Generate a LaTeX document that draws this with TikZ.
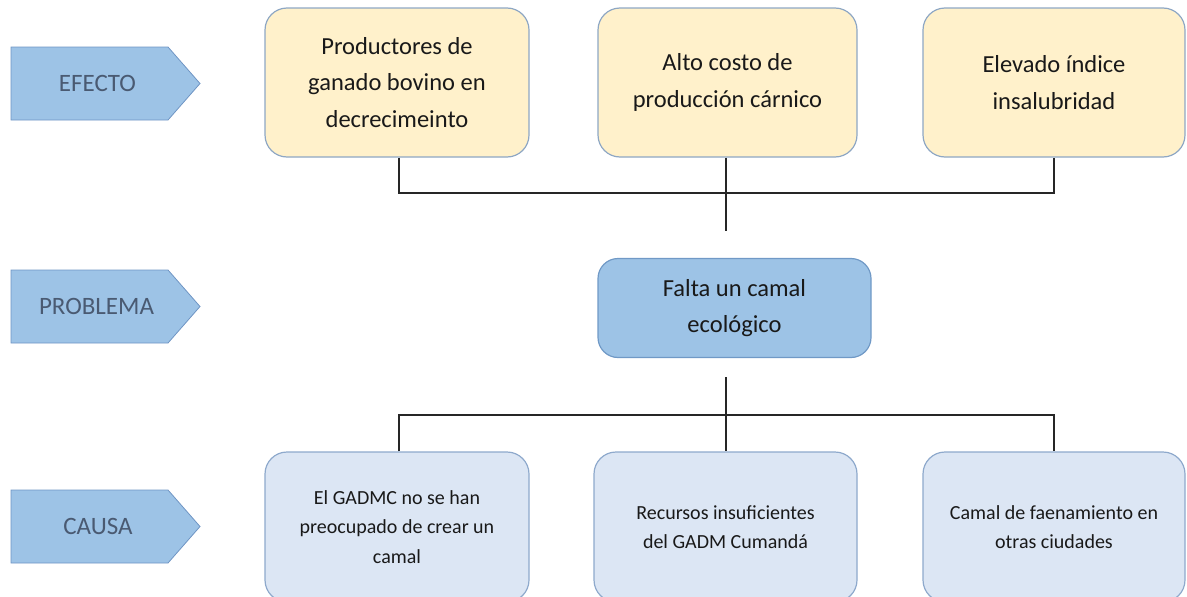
\documentclass[tikz,border=0pt]{standalone}
\usepackage{fontspec}
\setmainfont{Carlito}
\definecolor{tagfill}{HTML}{9DC3E6}
\definecolor{tagdraw}{HTML}{6F95C4}
\definecolor{tagtext}{HTML}{4A5A72}
\definecolor{efill}{HTML}{FFF1CB}
\definecolor{edraw}{HTML}{8EA7C4}
\definecolor{pfill}{HTML}{9DC3E6}
\definecolor{pdraw}{HTML}{7099C6}
\definecolor{cfill}{HTML}{DCE6F4}
\definecolor{cdraw}{HTML}{8EA9CC}
\begin{document}
\begin{tikzpicture}[x=1pt,y=-1pt,
  tagshape/.style={fill=tagfill, draw=tagdraw, line width=0.8pt},
  tag/.style={inner sep=0pt, font=\fontsize{25}{28}\selectfont, text=tagtext},
  ebox/.style={draw=edraw, fill=efill, line width=1.2pt, rounded corners=22pt, minimum height=149pt,
    align=center, inner sep=0pt, font=\fontsize{24.5}{36.5}\selectfont, text=black!90},
  pbox/.style={draw=pdraw, fill=pfill, line width=1.2pt, rounded corners=20pt, minimum width=273pt, minimum height=99pt,
    align=center, inner sep=0pt, font=\fontsize{24.5}{36}\selectfont, text=black!90},
  cbox/.style={draw=cdraw, fill=cfill, line width=1.2pt, rounded corners=22pt, minimum height=150pt,
    align=center, inner sep=0pt, font=\fontsize{20}{29.5}\selectfont, text=black!90},
  conn/.style={draw=black!85, line width=1.6pt}]
\useasboundingbox (0,0) rectangle (1187,597);
% side tags
\path[tagshape] (11,47) -- (168,47) -- (200,83.5) -- (168,120) -- (11,120) -- cycle;
\node[tag] (efecto) at (97.5,83.5) {EFECTO};
\path[tagshape] (11,270) -- (168,270) -- (200,306.5) -- (168,343) -- (11,343) -- cycle;
\node[tag] (problema) at (96.5,306.5) {PROBLEMA};
\path[tagshape] (11,490) -- (168,490) -- (200,526.5) -- (168,563) -- (11,563) -- cycle;
\node[tag] (causa) at (98,526.5) {CAUSA};
% effects
\node[ebox, minimum width=264pt] (e1) at (397,82.5) {Productores de\\ganado bovino en\\decrecimeinto};
\node[ebox, minimum width=259pt] (e2) at (727.5,82.5) {Alto costo de\\producción cárnico};
\node[ebox, minimum width=262pt] (e3) at (1054,82.5) {Elevado índice\\insalubridad};
% problem
\node[pbox] (p) at (734.5,308) {Falta un camal\\ecológico};
% causes
\node[cbox, minimum width=264pt] (c1) at (397,527) {El GADMC no se han\\preocupado de crear un\\camal};
\node[cbox, minimum width=263pt] (c2) at (725.5,527) {Recursos insuficientes\\del GADM Cumandá};
\node[cbox, minimum width=262pt] (c3) at (1054,527) {Camal de faenamiento en\\otras ciudades};
% connectors top
\coordinate (jt) at (726,193);
\coordinate (mt) at (726,231);
\draw[conn] (e1.south -| 399,0) |- (jt) -| (e3.south);
\draw[conn] (e2.south -| 726,0) -- (mt);
% connectors bottom
\coordinate (jb) at (726,415);
\coordinate (mb) at (726,377);
\draw[conn] (c1.north -| 399,0) |- (jb) -| (c3.north);
\draw[conn] (mb) -- (c2.north -| 726,0);
\end{tikzpicture}
\end{document}
